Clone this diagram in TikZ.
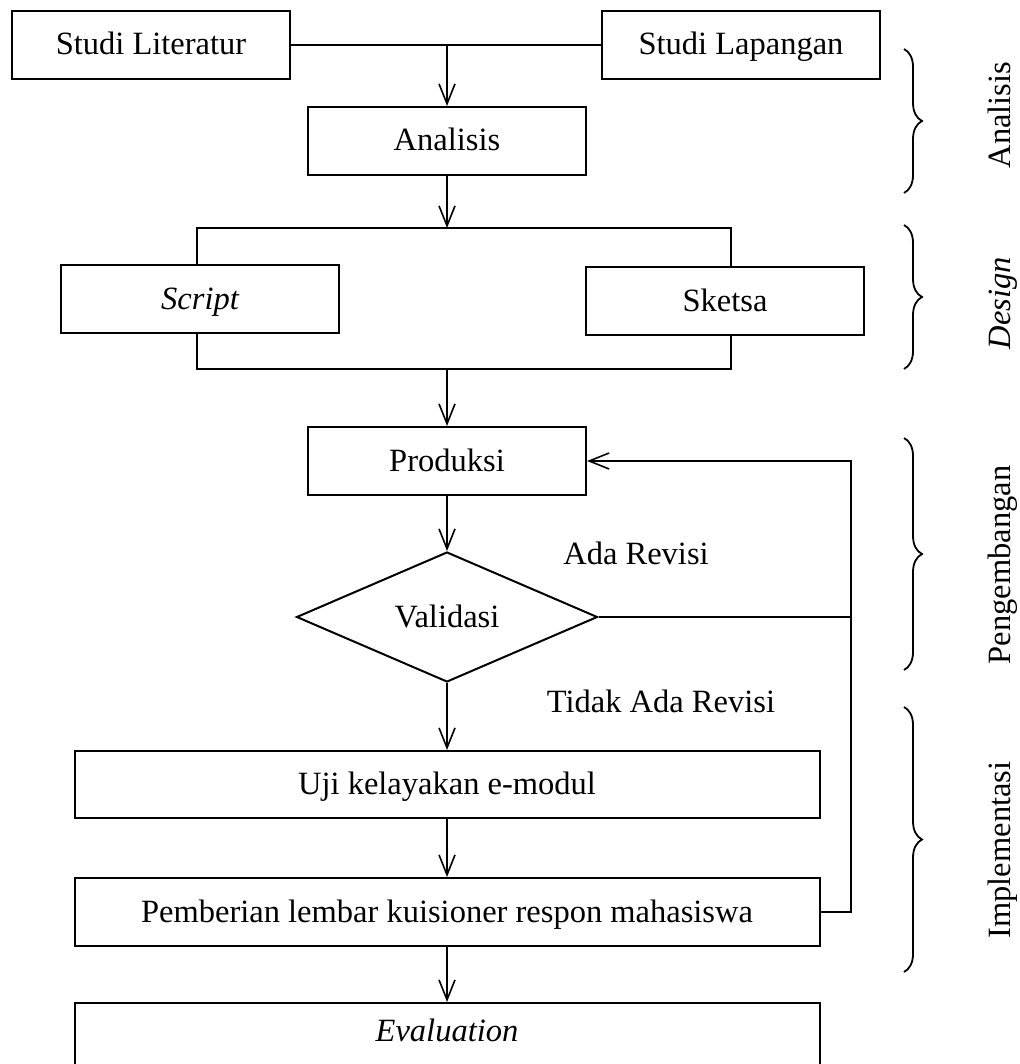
\documentclass[tikz,border=0pt]{standalone}
\usepackage{fontspec}
\setmainfont{Liberation Serif}
\usetikzlibrary{arrows.meta,shapes.geometric,decorations.pathreplacing}
\tikzset{
  txt/.style={font=\fontsize{32.5}{38}\selectfont, text height=26pt, text depth=6pt},
  box/.style={draw, line width=2pt, minimum width=278pt, minimum height=68pt, inner sep=0pt, txt},
  wbox/.style={box, minimum width=745pt},
  conn/.style={line width=1.6pt},
  arr/.style={conn, -{Straight Barb[length=20pt,width=16pt,line width=1.6pt]}},
  lbl/.style={txt, inner sep=0pt},
  brc/.style={line width=1.8pt, decorate, decoration={brace, amplitude=18pt}},
  side/.style={lbl, rotate=90}
}
\begin{document}
\begin{tikzpicture}[x=1pt,y={(0,-1pt)}]
\useasboundingbox (0,0) rectangle (1019,1064);
\clip (0,0) rectangle (1019,1064);
\fill[white] (0,0) rectangle (1019,1064);
% nodes
\node[box] (sl) at (151,45) {Studi Literatur};
\node[box] (sp) at (741,45) {Studi Lapangan};
\node[box] (an) at (447,141) {Analisis};
\node[box] (sc) at (200,299) {\itshape Script};
\node[box] (sk) at (725,301) {Sketsa};
\node[box] (pr) at (447,461) {Produksi};
\node[draw, line width=2pt, diamond, aspect=2.32, minimum width=301pt, minimum height=130pt, inner sep=0pt, txt] (va) at (447,617) {Validasi};
\node[wbox, minimum height=67pt] (uj) at (447,784.5) {Uji kelayakan e-modul};
\node[wbox] (pe) at (447,912) {Pemberian lembar kuisioner respon mahasiswa};
\node[wbox, minimum height=80pt, anchor=north] (ev) at (447,1002) {};
\node[lbl] (evt) at (447,1031) {\itshape Evaluation};
\node[lbl] (ada) at (636,554) {Ada Revisi};
\node[lbl] (tidak) at (661,702) {Tidak Ada Revisi};
% coordinates
\coordinate (j1) at (447,45);
\coordinate (d) at (447,228);
\coordinate (d1) at (197,228);
\coordinate (d2) at (731,228);
\coordinate (m) at (447,369);
\coordinate (m1) at (197,369);
\coordinate (m2) at (731,369);
\coordinate (r) at (851,461);
% connectors
\draw[conn] (sl.east) -- (sp.west);
\draw[arr] (j1) -- (an.north);
\draw[arr] (an.south) -- (d);
\draw[conn] (sc.north -| d1) -- (d1) -- (d2) -- (sk.north -| d2);
\draw[conn] (sc.south -| m1) -- (m1) -- (m2) -- (sk.south -| m2);
\draw[arr] (m) -- (pr.north);
\draw[arr] (pr.south) -- (va.north);
\draw[conn] (va.east) -- (va.east -| r);
\draw[arr] (pe.east) -| (r) -- (pr.east);
\draw[arr] (va.south) -- (uj.north);
\draw[arr] (uj.south) -- (pe.north);
\draw[arr] (pe.south) -- (ev.north);
% braces
\coordinate (b1a) at (904,49);   \coordinate (b1b) at (904,193);
\coordinate (b2a) at (904,225);  \coordinate (b2b) at (904,369);
\coordinate (b3a) at (904,438);  \coordinate (b3b) at (904,670);
\coordinate (b4a) at (904,707);  \coordinate (b4b) at (904,972);
\draw[brc] (b1a) -- (b1b);
\draw[brc] (b2a) -- (b2b);
\draw[brc] (b3a) -- (b3b);
\draw[brc] (b4a) -- (b4b);
\node[side] (s1) at (1000,115) {Analisis};
\node[side] (s2) at (1000,303) {\itshape Design};
\node[side] (s3) at (1000,565) {Pengembangan};
\node[side] (s4) at (1000,850) {Implementasi};
\end{tikzpicture}
\end{document}
